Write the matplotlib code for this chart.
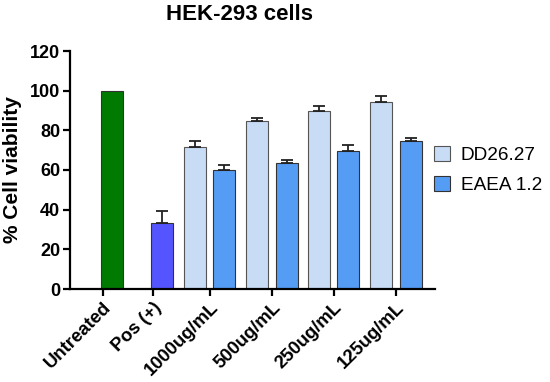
import matplotlib
matplotlib.use("Agg")
import matplotlib.pyplot as plt
import numpy as np

plt.rcParams['font.family'] = ['Liberation Sans', 'DejaVu Sans']

categories = ["Untreated", "Pos (+)", "1000ug/mL", "500ug/mL", "250ug/mL", "125ug/mL"]
single_values = [100, 33.5]
single_errors = [0, 6]
dd_values = [71.5, 84.5, 90, 94.5]
dd_errors = [3, 1.5, 2.3, 3]
eaea_values = [60, 63.5, 69.5, 74.5]
eaea_errors = [2.5, 1.5, 3, 1.5]
series_names = ["DD26.27", "EAEA 1.2"]

tick_pos = np.array([0, 0.806, 1.718, 2.726, 3.718, 4.726])
bw = 0.355
off = 0.234

W, H = 550, 382
fig = plt.figure(figsize=(5.5, 3.82), dpi=100)
ax = fig.add_axes([70 / W, 1 - 289 / H, 365 / W, 238 / H])

ekw = dict(capsize=4, elinewidth=1.3, capthick=1.3, ecolor="#222222")
single_colors = ["#007A00", "#5555FF"]
for i in range(2):
    ax.bar(tick_pos[i] + 0.145, single_values[i], bw, color=single_colors[i],
           edgecolor="#333333", linewidth=0.8,
           yerr=[[0], [single_errors[i]]] if single_errors[i] else None,
           error_kw=ekw)

gx = tick_pos[2:]
ax.bar(gx - off, dd_values, bw, color="#C8DCF6", edgecolor="#555555", linewidth=0.8,
       yerr=[np.zeros(4), dd_errors], error_kw=ekw, label=series_names[0])
ax.bar(gx + off, eaea_values, bw, color="#559CF5", edgecolor="#333333", linewidth=0.8,
       yerr=[np.zeros(4), eaea_errors], error_kw=ekw, label=series_names[1])

ax.set_xlim(-0.532, 5.355)
ax.set_ylim(0, 120)
ax.set_yticks(range(0, 121, 20))
ax.set_xticks(tick_pos)
ax.set_xticklabels(categories, rotation=45, ha='right', va='top',
                   rotation_mode='anchor', fontsize=13.3, fontweight='bold')
for lab in ax.get_yticklabels():
    lab.set_fontweight('bold')
    lab.set_fontsize(13)
ax.spines['top'].set_visible(False)
ax.spines['right'].set_visible(False)
for s in ['left', 'bottom']:
    ax.spines[s].set_linewidth(1.6)
ax.tick_params(axis='both', width=1.6, length=5)
ax.tick_params(axis='x', pad=2)
ax.tick_params(axis='y', pad=2)
ax.set_ylabel("% Cell viability", fontsize=15, fontweight='bold', labelpad=6)
fig.text(240 / W, 1 - 14 / H, "HEK-293 cells", fontsize=16, fontweight='bold',
         ha='center', va='center')

fig.legend(loc='upper left', bbox_to_anchor=(434 / W, 1 - 146 / H), frameon=False,
           fontsize=13.7, handlelength=0.85, handleheight=0.85, handletextpad=0.55,
           labelspacing=0.6, borderpad=0, borderaxespad=0)

fig.savefig("out.png", dpi=100)
